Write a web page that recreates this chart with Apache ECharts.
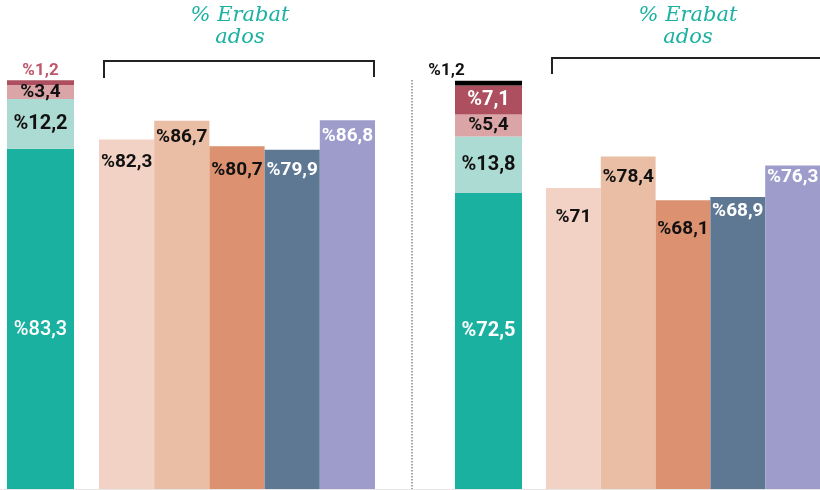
<!DOCTYPE html>
<html>
<head>
<meta charset="utf-8">
<script src="https://cdn.jsdelivr.net/npm/echarts@6/dist/echarts.min.js"></script>
<style>
  html, body { margin: 0; padding: 0; background: #fff; }
  #chart { width: 820px; height: 490px; }
</style>
</head>
<body>
<div id="chart"></div>
<script>
// stacked bars (share of respondents), bottom to top
const leftStack = [83.3, 12.2, 3.4, 1.2]
const rightStack = [72.5, 13.8, 5.4, 7.1, 1.2]
// "% Erabat ados" groups
const groupCats = ['g1', 'g2', 'g3', 'g4', 'g5']
const leftBars = [82.3, 86.7, 80.7, 79.9, 86.8]
const rightBars = [71, 78.4, 68.1, 68.9, 76.3]
const titleText = '% Erabat\nados'

const stackColors = ['#1bb1a1', '#acdbd3', '#dba5a8', '#ad4f5f', '#000000']
const barColors = ['#f1d2c4', '#eabda5', '#dc9170', '#5e7894', '#9e9ccb']
const barLabelColors = ['#111', '#111', '#111', '#fff', '#fff']
// label gap below bar top, px (the original isn't uniform)
const leftGaps = [13, 7, 14, 11, 6]
const rightGaps = [20, 11, 19, 5, 2]

const fmt = (v) => '%' + String(v).replace('.', ',')
const labelFont = { fontFamily: 'Roboto', fontWeight: 'bold', fontSize: 19 }

const hiddenAxis = {
  show: false,
  axisLine: { show: false },
  axisTick: { show: false },
  axisLabel: { show: false },
  splitLine: { show: false },
}

const stackLabels = {
  left: [
    { color: '#fff', fontWeight: 500, fontSize: 20, offset: [0, 11] },
    { color: '#111', fontSize: 20 },
    { color: '#111' },
    { color: '#c0566b', position: 'top', distance: 1, fontSize: 17 },
  ],
  right: [
    { color: '#fff', fontSize: 20, offset: [0, -10] },
    { color: '#111', fontSize: 20 },
    { color: '#111' },
    { color: '#fff', fontSize: 20 },
    { color: '#111', position: 'top', distance: 1, offset: [-42, 0], fontSize: 17 },
  ],
}

function stackSeries(values, idx, labels, stackName) {
  return values.map((v, i) => ({
    type: 'bar',
    stack: stackName,
    xAxisIndex: idx,
    yAxisIndex: idx,
    barWidth: '100%',
    data: [v],
    itemStyle: { color: stackColors[i] },
    label: {
      show: true,
      position: 'inside',
      formatter: () => fmt(v),
      ...labelFont,
      ...labels[i],
    },
    silent: true,
  }))
}

function groupSeries(values, idx, gaps) {
  return {
    type: 'bar',
    xAxisIndex: idx,
    yAxisIndex: idx,
    barCategoryGap: 0,
    data: values.map((v, i) => ({
      value: v,
      itemStyle: { color: barColors[i] },
      label: { color: barLabelColors[i], distance: gaps[i] },
    })),
    label: {
      show: true,
      position: 'insideTop',
      formatter: (p) => fmt(p.value),
      ...labelFont,
    },
    silent: true,
  }
}

const chart = echarts.init(document.getElementById('chart'))
chart.setOption({
  backgroundColor: '#fff',
  animation: false,
  grid: [
    { left: 7, width: 67, top: 1, bottom: 1 },
    { left: 99, width: 276, top: 1, bottom: 1 },
    { left: 455, width: 67, top: 1, bottom: 1 },
    { left: 546, width: 274, top: 1, bottom: 1 },
  ],
  xAxis: [
    { type: 'category', gridIndex: 0, data: ['s'], ...hiddenAxis },
    { type: 'category', gridIndex: 1, data: groupCats, ...hiddenAxis },
    { type: 'category', gridIndex: 2, data: ['s'], ...hiddenAxis },
    { type: 'category', gridIndex: 3, data: groupCats, ...hiddenAxis },
  ],
  yAxis: [
    { type: 'value', gridIndex: 0, min: 0, max: 119.5, ...hiddenAxis },
    { type: 'value', gridIndex: 1, min: 0, max: 114.9, ...hiddenAxis },
    { type: 'value', gridIndex: 2, min: 0, max: 119.5, ...hiddenAxis },
    { type: 'value', gridIndex: 3, min: 0, max: 115.1, ...hiddenAxis },
  ],
  series: [
    ...stackSeries(leftStack, 0, stackLabels.left, 'L'),
    groupSeries(leftBars, 1, leftGaps),
    ...stackSeries(rightStack, 2, stackLabels.right, 'R'),
    groupSeries(rightBars, 3, rightGaps),
  ],
  graphic: [
    {
      type: 'text', x: 240, y: 5,
      style: {
        text: titleText, align: 'center', fill: '#1bb1a1',
        font: 'italic 500 21px "DejaVu Serif"', lineHeight: 22,
      },
    },
    {
      type: 'text', x: 688, y: 5,
      style: {
        text: titleText, align: 'center', fill: '#1bb1a1',
        font: 'italic 500 21px "DejaVu Serif"', lineHeight: 22,
      },
    },
    {
      type: 'polyline',
      shape: { points: [[104, 78], [104, 61], [374, 61], [374, 77]] },
      style: { stroke: '#222', lineWidth: 2, fill: null },
    },
    {
      type: 'polyline',
      shape: { points: [[552, 74], [552, 58], [820, 58]] },
      style: { stroke: '#222', lineWidth: 2, fill: null },
    },
    {
      type: 'line',
      shape: { x1: 412, y1: 80, x2: 412, y2: 489 },
      style: { stroke: '#888', lineWidth: 1.5, lineDash: [1.5, 1.5] },
    },
    {
      type: 'line',
      shape: { x1: 0, y1: 489.5, x2: 820, y2: 489.5 },
      style: { stroke: '#e6e6e6', lineWidth: 1 },
    },
  ],
})
</script>
</body>
</html>
